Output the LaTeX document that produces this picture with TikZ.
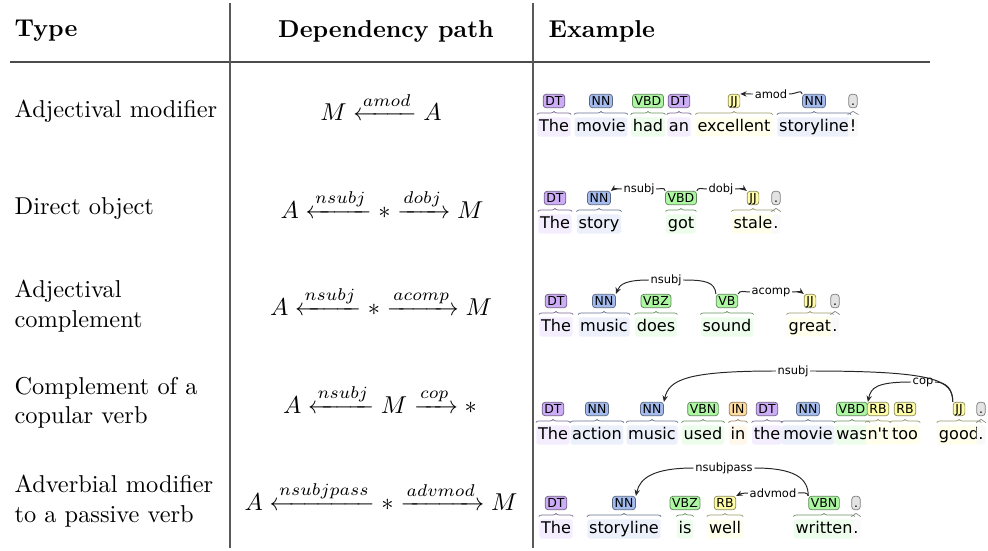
\documentclass[tikz,border=0pt]{standalone}
\usepackage{amsmath}
\usepackage{fontspec}
\usetikzlibrary{arrows.meta,decorations.pathreplacing}
\newfontfamily\bratfont{DejaVu Sans}

\definecolor{dtcol}{HTML}{CCADF6}
\definecolor{nncol}{HTML}{A4BCED}
\definecolor{vbcol}{HTML}{ADF6A2}
\definecolor{jjcol}{HTML}{FFFDA8}
\definecolor{incol}{HTML}{FFDCA0}
\definecolor{ptcol}{HTML}{E3E3E3}

\tikzset{
  head/.style={font=\bfseries},
  kind/.style={anchor=west, align=left},
  deppath/.style={},
  wordbox/.style={font=\bratfont\fontsize{6.6}{8}\selectfont, inner xsep=0.7pt, inner ysep=0.5pt,
    text height=5.2pt, text depth=1.6pt, rounded corners=1pt},
  tagbox/.style={font=\bratfont\fontsize{5.1}{6}\selectfont, draw, rounded corners=1.2pt, line width=0.3pt,
    inner xsep=0.9pt, inner ysep=0.2pt, text height=4.2pt, text depth=0.9pt},
  bracespan/.style={decorate, decoration={brace, amplitude=1.3pt}, line width=0.3pt},
  arclbl/.style={font=\bratfont\fontsize{4.7}{5.5}\selectfont, fill=white, inner sep=0.5pt},
  arcline/.style={draw=black!85, line width=0.4pt},
  deparc/.style={arcline, -{Stealth[length=2.6pt,width=2.2pt]}},
  midrule/.style={draw=black!70, line width=0.7pt},
  vline/.style={draw=black!65, line width=0.45pt}
}

% word, its tag and the brace between them
\newcommand{\tagword}[6]{%
  \node[wordbox, fill=#6!22] (#1w) at (#2,#3) {#4};
  \node[tagbox, fill=#6, draw=#6!55!black] (#1t) at (#2,#3-26) {#5};
  \draw[bracespan, draw=#6!60!black] ([yshift=1pt]#1w.north west) -- ([yshift=1pt]#1w.north east);
}

\begin{document}
\begin{tikzpicture}[x=0.41pt, y=-0.41pt]
    \useasboundingbox (0,0) rectangle (988,550);

    % table
    \draw[midrule] (10,62) -- (930,62);
    \draw[vline] (230,3) -- (230,548);
    \draw[vline] (533,3) -- (533,548);

    \node[head, anchor=west] (hType) at (6,31) {Type};
    \node[head] (hPath) at (386,31) {Dependency path};
    \node[head, anchor=west] (hEx) at (540,31) {Example};

    \node[kind] (k1) at (6,111) {Adjectival modifier};
    \node[kind] (k2) at (6,209) {Direct object};
    \node[kind] (k3) at (6,306) {Adjectival\\complement};
    \node[kind] (k4) at (6,403) {Complement of a\\copular verb};
    \node[kind] (k5) at (6,501) {Adverbial modifier\\to a passive verb};

    \node[deppath] (p1) at (381,106) {$M \xleftarrow{amod} A$};
    \node[deppath] (p2) at (382,204) {$A \xleftarrow{nsubj} * \xrightarrow{dobj} M$};
    \node[deppath] (p3) at (381,301) {$A \xleftarrow{nsubj} * \xrightarrow{acomp} M$};
    \node[deppath] (p4) at (380,399) {$A \xleftarrow{nsubj} M \xrightarrow{cop} *$};
    \node[deppath] (p5) at (381,496) {$A \xleftarrow{nsubjpass} * \xrightarrow{advmod} M$};

    % example 1
    \tagword{a1}{554}{127}{The}{DT}{dtcol}
    \tagword{a2}{601}{127}{movie}{NN}{nncol}
    \tagword{a3}{648}{127}{had}{VBD}{vbcol}
    \tagword{a4}{679}{127}{an}{DT}{dtcol}
    \tagword{a5}{734}{127}{excellent}{JJ}{jjcol}
    \tagword{a6}{814}{127}{storyline}{NN}{nncol}
    \tagword{a7}{853}{127}{!}{.}{ptcol}
    \node[arclbl] (amodA) at (771,94) {amod};
    \draw[deparc] (amodA.west) -- (a5t.north east);
    \draw[arcline] (amodA.east) .. controls +(8,0) and +(-1,-5) .. (a6t.north west);

    % example 2
    \tagword{b1}{555}{224}{The}{DT}{dtcol}
    \tagword{b2}{599}{224}{story}{NN}{nncol}
    \tagword{b3}{681}{224}{got}{VBD}{vbcol}
    \tagword{b4}{753}{224}{stale}{JJ}{jjcol}
    \tagword{b5}{776}{224}{.}{.}{ptcol}
    \node[arclbl] (nsubjB) at (639,189) {nsubj};
    \node[arclbl] (dobjB) at (721,189) {dobj};
    \draw[deparc] (nsubjB.west) .. controls +(-6,0) and +(4,-3) .. (b2t.north east);
    \draw[arcline] (nsubjB.east) .. controls +(6,0) and +(-1,-4) .. (b3t.north west);
    \draw[arcline] (b3t.north east) .. controls +(1,-4) and +(-5,0) .. (dobjB.west);
    \draw[deparc] (dobjB.east) .. controls +(5,0) and +(-4,-3) .. (b4t.north west);

    % example 3
    \tagword{c1}{556}{327}{The}{DT}{dtcol}
    \tagword{c2}{604}{327}{music}{NN}{nncol}
    \tagword{c3}{656}{327}{does}{VBZ}{vbcol}
    \tagword{c4}{727}{327}{sound}{VB}{vbcol}
    \tagword{c5}{810}{327}{great}{JJ}{jjcol}
    \tagword{c6}{835}{327}{.}{.}{ptcol}
    \node[arclbl] (nsubjC) at (666,280) {nsubj};
    \node[arclbl] (acompC) at (771,292) {acomp};
    \draw[deparc] (nsubjC.west) .. controls +(-22,0) and +(4,-10) .. (c2t.north east);
    \draw[arcline] (nsubjC.east) .. controls +(22,0) and +(-1,-12) .. (c4t.north west);
    \draw[arcline] (c4t.north east) .. controls +(2,-4) and +(-6,0) .. (acompC.west);
    \draw[deparc] (acompC.east) .. controls +(6,0) and +(-4,-3) .. (c5t.north west);

    % example 4
    \tagword{d1}{553}{435}{The}{DT}{dtcol}
    \tagword{d2}{597}{435}{action}{NN}{nncol}
    \tagword{d3}{652}{435}{music}{NN}{nncol}
    \tagword{d4}{703}{435}{used}{VBN}{vbcol}
    \tagword{d5}{738}{435}{in}{IN}{incol}
    \tagword{d6}{767}{435}{the}{DT}{dtcol}
    \tagword{d7}{808}{435}{movie}{NN}{nncol}
    \tagword{d8}{852}{435}{was}{VBD}{vbcol}
    \tagword{d9}{878}{435}{n't}{RB}{jjcol}
    \tagword{d10}{905}{435}{too}{RB}{jjcol}
    \tagword{d11}{959}{435}{good}{JJ}{jjcol}
    \tagword{d12}{981}{435}{.}{.}{ptcol}
    \node[arclbl] (nsubjD) at (793,371) {nsubj};
    \node[arclbl] (copD) at (923,382) {cop};
    \draw[deparc] (nsubjD.west) .. controls +(-90,0) and +(5,-22) .. (d3t.north east);
    \draw[arcline] (nsubjD.east) .. controls +(125,0) and +(0,-22) .. (d11t.north west);
    \draw[deparc] (copD.west) .. controls +(-35,0) and +(3,-14) .. (d8t.north east);
    \draw[arcline] (copD.east) .. controls +(12,0) and +(0,-12) .. (d11t.north west);

    % example 5
    \tagword{e1}{556}{529}{The}{DT}{dtcol}
    \tagword{e2}{624}{529}{storyline}{NN}{nncol}
    \tagword{e3}{685}{529}{is}{VBZ}{vbcol}
    \tagword{e4}{725}{529}{well}{RB}{jjcol}
    \tagword{e5}{824}{529}{written}{VBN}{vbcol}
    \tagword{e6}{856}{529}{.}{.}{ptcol}
    \node[arclbl] (npE) at (724,468) {nsubjpass};
    \node[arclbl] (advE) at (773,493) {advmod};
    \draw[deparc] (npE.west) .. controls +(-40,0) and +(4,-18) .. (e2t.north east);
    \draw[arcline] (npE.east) .. controls +(40,0) and +(0,-18) .. (e5t.north west);
    \draw[deparc] (advE.west) .. controls +(-5,0) and +(4,-2) .. (e4t.north east);
    \draw[arcline] (advE.east) .. controls +(6,0) and +(-1,-4) .. (e5t.north west);

\end{tikzpicture}
\end{document}
